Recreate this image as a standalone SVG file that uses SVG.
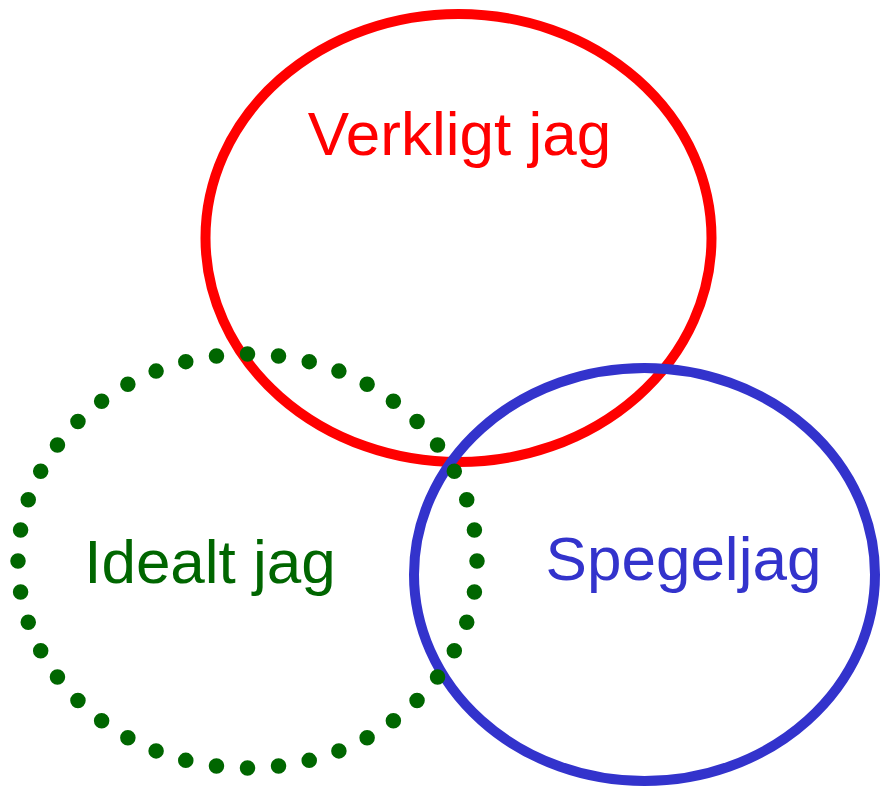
<svg xmlns="http://www.w3.org/2000/svg" width="884" height="788" viewBox="0 0 884 788">
<style>
.lbl{font-family:"Liberation Sans",Arial,sans-serif;font-size:62px;text-anchor:middle}
.ring{fill:none;stroke-width:10}
</style>
<rect width="884" height="788" fill="#ffffff"/>
<g id="verkligt">
<ellipse class="ring" cx="458.5" cy="238" rx="253" ry="224" stroke="#ff0000"/>
<text class="lbl" x="459.5" y="155" fill="#ff0000">Verkligt jag</text>
</g>
<g id="spegel">
<ellipse class="ring" cx="644.5" cy="574.5" rx="230.5" ry="206.5" stroke="#3333cc"/>
<text class="lbl" x="683.5" y="580" fill="#3333cc">Spegeljag</text>
</g>
<g id="ideal">
<path d="M18,561 A229.5,207 0 1,1 477,561 A229.5,207 0 1,1 18,561 Z" fill="none" stroke="#006600" stroke-width="15.5" stroke-linecap="round" pathLength="44" stroke-dasharray="0 1"/>
<text class="lbl" x="210" y="583" fill="#006600">Idealt jag</text>
</g>
<g id="connectors"></g>
</svg>
